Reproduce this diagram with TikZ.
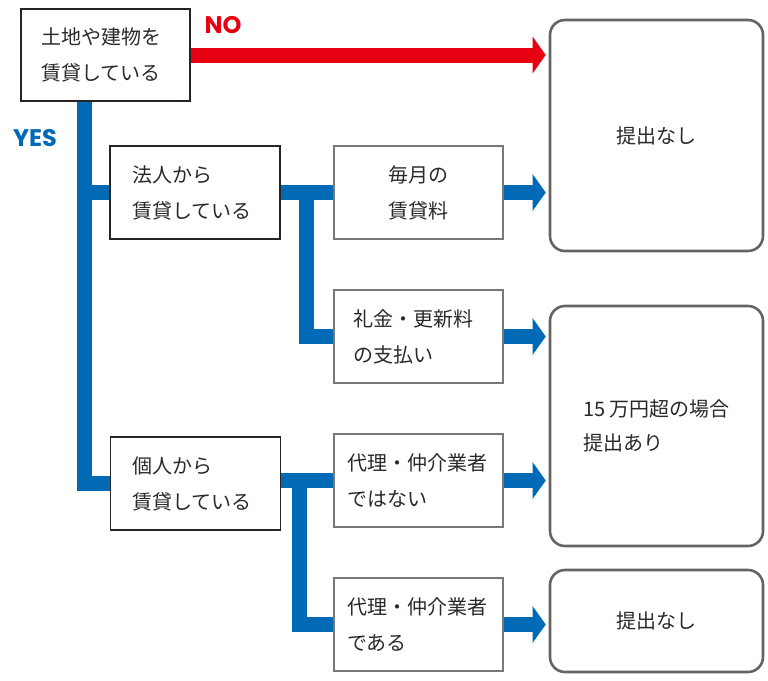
\documentclass[tikz,border=0pt]{standalone}
\usepackage{fontspec}
\setmainfont{Noto Sans CJK JP}
\newfontfamily\yesfont{Poppins}
\usetikzlibrary{arrows.meta,backgrounds}
\definecolor{fblue}{RGB}{0,106,182}
\definecolor{fred}{RGB}{230,0,18}
\definecolor{ftext}{RGB}{45,40,40}
\definecolor{fdark}{RGB}{40,35,35}
\definecolor{fgray}{RGB}{120,120,120}
\definecolor{fround}{RGB}{100,100,100}
\tikzset{
  jtext/.style={font=\fontsize{20pt}{36pt}\selectfont, text=ftext},
  darkbox/.style={jtext, draw=fdark, line width=1.4pt, fill=white, inner sep=0pt,
    minimum width=170pt, minimum height=93pt, align=left},
  graybox/.style={jtext, draw=fgray, line width=1.4pt, fill=white, inner sep=0pt,
    minimum width=169pt, minimum height=93pt, align=left},
  roundbox/.style={jtext, draw=fround, line width=2.6pt, fill=white, rounded corners=15pt,
    inner sep=0pt, minimum width=213pt, align=left},
  bline/.style={draw=fblue, line width=15pt, line join=miter},
  barrow/.style={draw=fblue, line width=15pt, -{Triangle[length=13pt,width=36pt]}, shorten >=3pt},
  rarrow/.style={draw=fred, line width=15pt, -{Triangle[length=13pt,width=36pt]}, shorten >=3pt},
  lbl/.style={font=\yesfont\bfseries\fontsize{24pt}{26pt}\selectfont},
}
\begin{document}
\begin{tikzpicture}[x=1pt,y=-1pt]
\useasboundingbox (0,0) rectangle (768,680);
% boxes
\node[darkbox, minimum width=169pt, minimum height=92pt, text width=129pt] (b1) at (105.5,55) {土地や建物を\\賃貸している};
\node[darkbox, text width=126pt] (hojin) at (195,192.5) {法人から\\賃貸している};
\node[darkbox, text width=126pt] (kojin) at (195.5,483.5) {個人から\\賃貸している};
\node[graybox, align=center] (maitsuki) at (418.5,192.5) {毎月の\\賃貸料};
\node[graybox, text width=131pt] (reikin) at (418.5,336.5) {礼金・更新料\\の支払い};
\node[graybox, text width=143pt] (dai1) at (418.5,480.5) {代理・仲介業者\\ではない};
\node[graybox, text width=143pt] (dai2) at (418.5,624.5) {代理・仲介業者\\である};
\node[roundbox, minimum height=231pt] (r1) at (656.5,135.5) {提出なし};
\node[roundbox, minimum height=240pt, font=\fontsize{20pt}{34pt}\selectfont] (r2) at (656.5,426) {15 万円超の場合\\提出あり};
\node[roundbox, minimum height=102pt] (r3) at (656.5,621) {提出なし};
% labels
\node[lbl, text=fred] (no) at (223,25) {NO};
\node[lbl, text=fblue] (yes) at (35,138) {YES};
% connectors
\coordinate (trunk) at (84,0);
\coordinate (sub1) at (306,0);
\coordinate (sub2) at (299.5,0);
\begin{scope}[on background layer]
\draw[bline] (b1.south -| trunk) |- (hojin.west);
\draw[bline] (trunk |- hojin.west) |- (kojin.west);
\draw[bline] (hojin.east) -- (maitsuki.west);
\draw[bline] (sub1 |- hojin.east) |- (reikin.west);
\draw[bline] (kojin.east |- dai1.west) -- (dai1.west);
\draw[bline] (sub2 |- dai1.west) |- (dai2.west);
\draw[rarrow] (b1.east) -- (b1.east -| r1.west);
\draw[barrow] (maitsuki.east) -- (maitsuki.east -| r1.west);
\draw[barrow] (reikin.east) -- (reikin.east -| r2.west);
\draw[barrow] (dai1.east) -- (dai1.east -| r2.west);
\draw[barrow] (dai2.east) -- (dai2.east -| r3.west);
\end{scope}
\end{tikzpicture}
\end{document}
